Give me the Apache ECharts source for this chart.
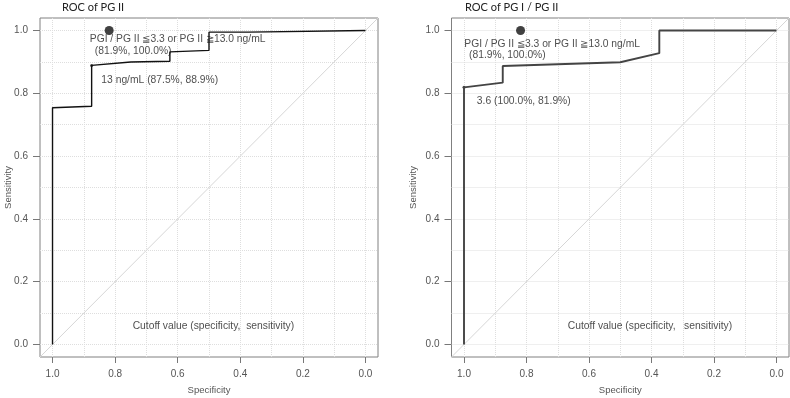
<!DOCTYPE html>
<html>
<head>
<meta charset="utf-8">
<script src="https://cdn.jsdelivr.net/npm/echarts@6/dist/echarts.min.js"></script>
<style>
html, body { margin: 0; padding: 0; background: #fff; }
#chart { width: 790px; height: 398px; }
</style>
</head>
<body>
<div id="chart"></div>
<script>
// [specificity, sensitivity]
const rocPG2 = [[1.0, 0.0], [1.0, 0.754], [0.875, 0.759], [0.875, 0.889], [0.75, 0.9], [0.625, 0.902],
  [0.625, 0.932], [0.5, 0.937], [0.5, 0.995], [0.375, 0.995], [0.375, 1.0], [0.0, 1.0]];
const rocRatio = [[1.0, 0.0], [1.0, 0.819], [0.876, 0.834], [0.876, 0.887], [0.5, 0.899], [0.375, 0.928],
  [0.375, 1.0], [0.0, 1.0]];
const cutPG2 = [0.875, 0.889];
const cutRatio = [1.0, 0.819];
const combined = [0.819, 1.0];

const titles = ["ROC of PG II", "ROC of PG I / PG II"];
const tickVals = [0, 0.2, 0.4, 0.6, 0.8, 1.0];
const gridVals = [0, 0.1, 0.2, 0.3, 0.4, 0.5, 0.6, 0.7, 0.8, 0.9, 1.0];
const axisRange = [-0.04, 1.04];
const diagonal = [[1.04, -0.04], [-0.04, 1.04]];

// text, specificity, sensitivity (anchor of left edge)
const notesPG2 = [
  ["PGI / PG II \u22663.3 or PG II \u226713.0 ng/mL", 0.881, 0.972],
  ["(81.9%, 100.0%)", 0.865, 0.935],
  ["13 ng/mL (87.5%, 88.9%)", 0.844, 0.842],
  ["Cutoff value (specificity,  sensitivity)", 0.744, 0.057]
];
const notesRatio = [
  ["PGI / PG II \u22663.3 or PG II \u226713.0 ng/mL", 0.999, 0.958],
  ["(81.9%, 100.0%)", 0.984, 0.921],
  ["3.6 (100.0%, 81.9%)", 0.959, 0.775],
  ["Cutoff value (specificity,   sensitivity)", 0.668, 0.057]
];

const chart = echarts.init(document.getElementById("chart"));
const font = "'Liberation Sans', Arial, sans-serif";

function xAxes(g) {
  return [
    {
      type: "value", gridIndex: g, min: axisRange[0], max: axisRange[1], inverse: true,
      name: "Specificity", nameLocation: "middle", nameGap: 28,
      nameTextStyle: { color: "#555", fontSize: 9.5, fontFamily: font },
      axisLine: { show: false, onZero: false },
      axisTick: { show: true, length: 6, customValues: tickVals, lineStyle: { color: "#777" } },
      axisLabel: { customValues: tickVals, formatter: (v) => Number(v).toFixed(1), color: "#555", fontSize: 10, fontFamily: font, margin: 12 },
      splitLine: { show: false },
    },
    {
      type: "value", gridIndex: g, min: axisRange[0], max: axisRange[1], inverse: true,
      axisLine: { show: false, onZero: false },
      axisTick: { show: false, customValues: gridVals },
      axisLabel: { show: false },
      splitLine: { show: true, lineStyle: { color: "#dedede", type: "dotted" } },
    },
  ];
}
function yAxes(g, gap) {
  return [
    {
      type: "value", gridIndex: g, min: axisRange[0], max: axisRange[1],
      name: "Sensitivity", nameLocation: "middle", nameGap: gap, nameMoveOverlap: false,
      nameTextStyle: { color: "#555", fontSize: 9.5, fontFamily: font },
      axisLine: { show: false, onZero: false },
      axisTick: { show: true, length: 7, customValues: tickVals, lineStyle: { color: "#777" } },
      axisLabel: { customValues: tickVals, formatter: (v) => Number(v).toFixed(1), color: "#555", fontSize: 10, fontFamily: font, margin: 12 },
      splitLine: { show: false },
    },
    {
      type: "value", gridIndex: g, min: axisRange[0], max: axisRange[1],
      axisLine: { show: false, onZero: false },
      axisTick: { show: false, customValues: gridVals },
      axisLabel: { show: false },
      splitLine: { show: true, lineStyle: { color: "#dedede", type: "dotted" } },
    },
  ];
}

function panelSeries(g, roc, cut, notes, lineColor, lineWidth) {
  const ax = { xAxisIndex: 2 * g, yAxisIndex: 2 * g };
  return [
    {
      type: "line", ...ax, data: diagonal, symbol: "none", silent: true,
      lineStyle: { color: "#d6d6d6", width: 1 },
    },
    {
      type: "line", ...ax, data: roc, symbol: "none",
      lineStyle: { color: lineColor, width: lineWidth },
    },
    {
      type: "scatter", ...ax, data: [cut], symbolSize: 3,
      itemStyle: { color: "#111" },
    },
    {
      type: "scatter", ...ax, data: [combined], symbolSize: 9,
      itemStyle: { color: "#111" },
    },
    {
      type: "scatter", ...ax, symbolSize: 0, silent: true,
      data: notes.map((n) => ({ name: n[0], value: [n[1], n[2]] })),
      label: {
        show: true, position: "right", distance: 0, formatter: (p) => p.name,
        color: "#222", fontSize: 10.3, fontFamily: font,
      },
    },
  ];
}

const titleStyle = { fontFamily: "Lato", fontSize: 11, fontWeight: "normal", color: "#222" };
const option = {
  animation: false,
  title: [
    { text: titles[0], left: 62, top: 2, padding: 0, textStyle: titleStyle },
    { text: titles[1], left: 465, top: 2, padding: 0, textStyle: titleStyle },
  ],
  grid: [
    { left: 40, top: 18, width: 338, height: 339, outerBoundsMode: "none", containLabel: false, show: true, borderColor: "#808080", borderWidth: 1, backgroundColor: "transparent" },
    { left: 451.5, top: 18, width: 337.5, height: 339, outerBoundsMode: "none", containLabel: false, show: true, borderColor: "#808080", borderWidth: 1, backgroundColor: "transparent" },
  ],
  xAxis: [...xAxes(0), ...xAxes(1)],
  yAxis: [...yAxes(0, 27), ...yAxes(1, 33.5)],
  series: [
    ...panelSeries(0, rocPG2, cutPG2, notesPG2, "#111", 1.4),
    ...panelSeries(1, rocRatio, cutRatio, notesRatio, "#444", 1.9),
  ],
};
chart.setOption(option);
</script>
</body>
</html>
